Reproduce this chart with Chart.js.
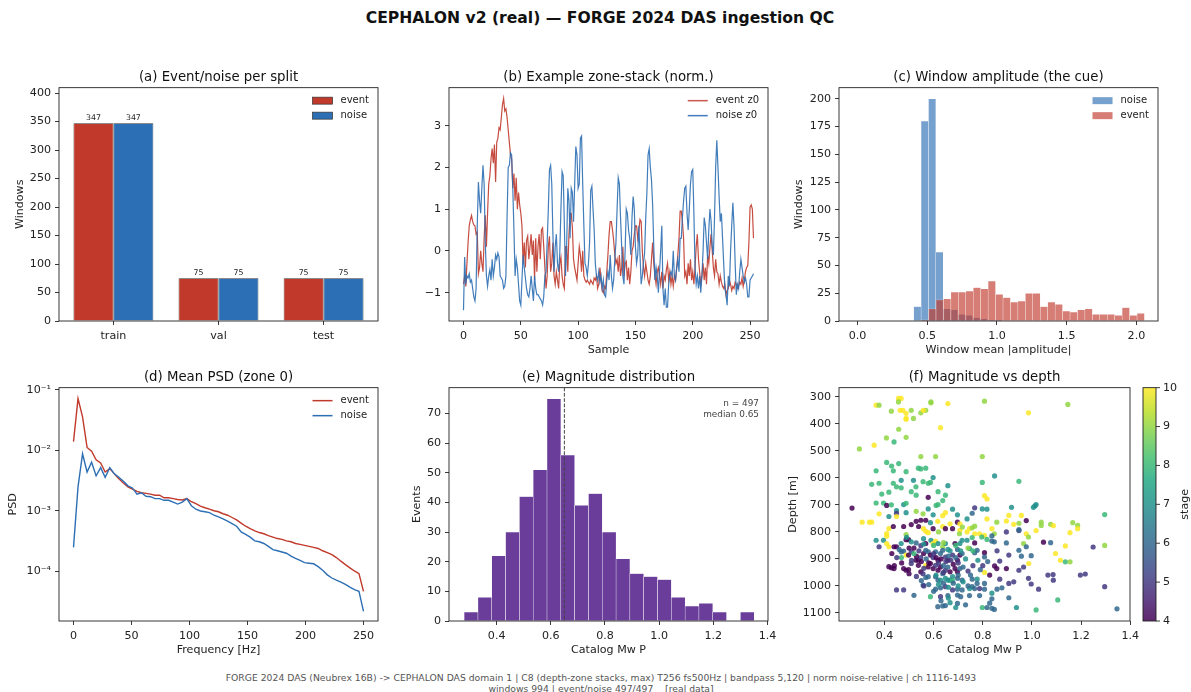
<!DOCTYPE html>
<html>
<head>
<meta charset="utf-8">
<title>CEPHALON v2 QC</title>
<script src="https://cdn.jsdelivr.net/npm/chart.js@4.4.1/dist/chart.umd.min.js"></script>
<style>
  body { margin: 0; background: #fff; }
  #fig { position: relative; width: 1191px; height: 692px; overflow: hidden; font-family: 'DejaVu Sans', sans-serif; color: #111; }
  #fig canvas { position: absolute; }
  .lbl { position: absolute; transform: translate(-50%, -50%); white-space: pre; }
  .ptitle { font-size: 13.3px; }
  #suptitle { font-size: 15.6px; font-weight: bold; }
  .foot { font-size: 9.25px; color: #555; }
</style>
</head>
<body>
<div id="fig">
  <div id="suptitle" class="lbl" style="left:600px;top:18px">CEPHALON v2 (real) — FORGE 2024 DAS ingestion QC</div>
  <div class="lbl foot" style="left:601px;top:677px">FORGE 2024 DAS (Neubrex 16B) -&gt; CEPHALON DAS domain 1 | C8 (depth-zone stacks, max) T256 fs500Hz | bandpass 5,120 | norm noise-relative | ch 1116-1493</div>
  <div class="lbl foot" style="left:601px;top:688px">windows 994 | event/noise 497/497    [real data]</div>
</div>
<script>
// (a) windows per split
const splits = ['train', 'val', 'test'];
const splitPos = [0, 1, 2];
const eventPerSplit = [347, 75, 75];
const noisePerSplit = [347, 75, 75];
const countTicks = [0, 50, 100, 150, 200, 250, 300, 350, 400];

// (b) example zone-stack, zone 0
const eventZ0 = [
  -0.8, -0.6, -0.85, -0.3, 0.2, 0.6, 0.75, 0.85, 0.7, 0.62,
  0.6, 0.4, 0.45, -0.55, -0.4, 0.0, -0.3, -0.5, 0.3, 0.85,
  0.1, 0.9, 1.6, 1.8, 2.2, 2.45, 2.1, 2.55, 1.65, 2.6,
  2.7, 2.95, 2.9, 3.2, 3.5, 3.65, 3.35, 3.4, 3.2, 2.9,
  2.6, 2.3, 2.2, 1.5, 1.85, 1.2, 1.75, 1.0, 1.4, 1.1,
  0.9, 0.6, -0.3, 0.2, -0.4, 0.25, 0.35, -0.2, 0.1, 0.4,
  -0.1, 0.25, -0.7, 0.3, -0.5, 0.1, 0.4, -0.2, 0.5, 0.55,
  0.1, -0.4, -0.9, -0.6, 0.1, 0.35, -0.5, -0.3, 0.2, -0.6,
  -0.8, -0.5, -0.7, -0.9, -0.3, -0.15, -0.6, -0.8, -0.9, 0.1,
  0.1, -0.5, 0.4, 0.9, 0.9, 0.55, -0.2, -0.4, -0.55, -0.7,
  -0.3, 0.1, -0.1, -0.5, 0.0, -0.6, -0.7, -0.75, -0.7, -0.75,
  -0.8, -0.7, -0.75, -0.8, -0.65, -0.7, -0.6, -0.9, -0.8, -0.4,
  -0.7, -0.95, -1.0, -0.85, -0.9, -0.5, -0.1, 0.4, 0.7, 0.7,
  0.5, 0.25, -0.1, -0.3, -0.2, -0.5, -0.1, -0.6, -0.4, 0.1,
  -0.6, -0.3, -0.25, -0.7, -0.4, -0.8, -0.5, 0.0, 0.1, 0.4,
  0.6, 0.6, 0.3, 0.5, 0.75, 0.7, 0.0, -0.4, -0.6, -0.3,
  -0.5, -0.7, -0.8, -0.6, -0.2, 0.2, -0.3, -0.6, -0.8, -0.5,
  -0.4, -0.6, -0.8, -0.5, -0.9, -0.6, -0.7, -0.45, -0.3, -0.7,
  -0.5, -0.8, -0.6, -0.85, -0.6, -0.7, -0.4, -0.1, 0.3, 0.95,
  0.95, 0.7, 0.3, -0.6, -0.5, -0.8, -0.3, -0.6, -0.2, -0.7,
  -0.5, -0.8, -0.4, 0.1, 0.4, -0.2, -0.5, -0.8, -0.6, -0.3,
  -0.7, -0.4, -0.8, -0.1, -0.3, 0.1, 0.4, 0.0, -0.4, -0.6,
  -0.2, -0.5, -0.55, -0.8, -0.6, -0.75, -0.85, -0.9, -0.8, -1.05,
  -0.95, -0.9, -0.7, -0.8, -0.95, -0.85, -0.9, -0.75, -0.8, -0.9,
  -0.85, -0.75, -0.8, -0.65, -0.85, -0.7, -0.5, -0.4, -0.35, 0.2,
  1.05, 1.1, 1.0, 0.3
];
const noiseZ0 = [
  -1.42, -0.15, -0.8, -0.6, -0.65, -0.55, -0.75, -0.7, -0.9, -1.1,
  -1.2, -0.9, 0.6, 1.65, 1.2, 0.9, 1.5, 2.05, 1.6, 0.2,
  -0.6, -0.85, -0.6, -0.45, -0.7, -0.2, -0.6, -0.4, -0.1, -0.2,
  -0.05, -0.15, -0.6, -0.65, -0.7, -0.9, -0.85, -0.6, 0.8, 2.0,
  2.05, 2.35, 2.3, 1.5, 0.5, -0.6, -0.2, -0.4, -0.8, -1.2,
  -1.3, -0.7, -0.1, -0.4, -0.65, -0.9, -1.05, -1.1, -0.9, -0.6,
  -0.9, -1.2, -0.6, -0.9, -1.05, -1.05, -1.1, -1.15, -1.2, -1.3,
  -1.1, -0.6, -0.5, 0.2, 1.0, 1.95, 2.05, 1.6, 0.4, -0.5,
  0.1, 0.4, -0.3, -0.5, -0.05, 1.0, 1.9, 1.8, 0.6, -0.6,
  0.1, 1.5, 1.2, 0.3, 1.5, 1.4, 0.7, 1.6, 2.5, 2.3,
  1.5, 1.6, 2.7, 2.75, 1.6, 0.6, -0.3, -0.4, -0.6, -0.3,
  0.2, 1.45, 1.55, 1.0, 0.5, -0.3, -0.6, -0.7, -0.5, -0.75,
  -0.6, -0.9, -0.7, -1.05, -1.1, -0.7, -0.5, -0.7, -0.1, -0.6,
  -0.9, -0.7, -0.2, 0.2, 1.0, 1.75, 1.6, 0.8, 0.1, -0.6,
  -0.8, 0.0, 1.0, 0.9, 0.5, 0.3, -0.1, 0.8, 1.3, 1.0,
  0.1, -0.3, -0.1, 0.6, -0.1, -0.8, -0.6, -0.3, -0.05, 0.8,
  1.4, 2.3, 2.45, 2.0, 1.7, 1.1, 0.1, -0.7, -0.4, -0.6,
  -1.0, -0.5, 0.0, 0.6, -0.9, -1.3, -0.9, -1.35, -1.35, -0.8,
  -0.6, -0.5, -0.6, 0.0, -0.6, -0.7, -0.4, -0.2, -0.5, 0.3,
  0.3, 0.8, 1.2, 1.5, 1.55, 0.9, 0.5, 1.0, 1.6, 1.9,
  1.95, 0.9, -0.4, -0.8, -0.6, -0.9, -0.6, -1.0, -0.6, 0.0,
  0.8, 0.6, 0.2, -0.2, 0.5, 1.0, 0.7, 0.1, -0.1, 0.8,
  2.0, 2.65, 2.0, 1.3, 0.7, 0.9, 0.3, -0.3, -0.9, -1.05,
  -1.3, -0.6, -0.85, 0.0, 0.6, 1.15, 0.6, -0.3, -1.05, -0.8,
  -0.9, -0.5, -0.2, -0.4, -0.6, -0.75, -0.65, -0.8, -1.1, -1.1,
  -0.7, -0.65, -0.6, -0.55
];
const sampleTicks = [0, 50, 100, 150, 200, 250];
const zTicks = [-1, 0, 1, 2, 3];

// (c) window mean |amplitude| histograms
const noiseAmpBins = [0.4294, 0.4822, 0.5350, 0.5878, 0.6406, 0.6934, 0.7462, 0.7990, 0.8518, 0.9046, 0.9574, 1.0102];
const noiseAmpCounts = [13, 180, 200, 62, 11, 10, 6, 5, 3, 2, 1, 1];
const eventAmpBins = [0.4827, 0.5361, 0.5895, 0.6429, 0.6963, 0.7497, 0.8031, 0.8565, 0.9099, 0.9633,
  1.0167, 1.0701, 1.1235, 1.1769, 1.2303, 1.2837, 1.3371, 1.3905, 1.4439, 1.4973,
  1.5507, 1.6041, 1.6575, 1.7109, 1.7643, 1.8177, 1.8711, 1.9245, 1.9779, 2.0313];
const eventAmpCounts = [1, 11, 19, 20, 26, 26, 27, 30, 29, 36, 24, 21, 17, 18, 25, 25, 13, 17, 15, 9,
  8, 10, 11, 6, 6, 6, 5, 12, 5, 7];
const ampTicks = [0, 0.5, 1, 1.5, 2];
const ampCountTicks = [0, 25, 50, 75, 100, 125, 150, 175, 200];

// (d) mean PSD, zone 0
const psdFreqs = [0, 3.9, 7.8, 11.7, 15.6, 19.5, 23.4, 27.3, 31.3, 35.2, 39.1, 43.0, 46.9, 50.8, 54.7, 58.6,
  62.5, 66.4, 70.3, 74.2, 78.1, 82.0, 85.9, 89.8, 93.8, 97.7, 101.6, 105.5, 109.4, 113.3, 117.2, 121.1,
  125.0, 128.9, 132.8, 136.7, 140.6, 144.5, 148.4, 152.3, 156.3, 160.2, 164.1, 168.0, 171.9, 175.8, 179.7,
  183.6, 187.5, 191.4, 195.3, 199.2, 203.1, 207.0, 210.9, 214.8, 218.8, 222.7, 226.6, 230.5, 234.4, 238.3,
  242.2, 246.1, 250.0];
const psdEvent = [0.014, 0.072, 0.036, 0.0112, 0.0097, 0.0070, 0.0062, 0.0044, 0.0050, 0.0041, 0.0034, 0.0029,
  0.0025, 0.0023, 0.0021, 0.0020, 0.00195, 0.0019, 0.00182, 0.00182, 0.00165, 0.00165, 0.0016, 0.00155,
  0.00152, 0.0016, 0.00142, 0.00132, 0.0012, 0.00113, 0.00107, 0.00101, 0.00097, 0.0009, 0.00085, 0.00078,
  0.00071, 0.00063, 0.00056, 0.00051, 0.00047, 0.00044, 0.00042, 0.00039, 0.00037, 0.00035, 0.00034,
  0.00032, 0.00031, 0.00029, 0.00028, 0.00027, 0.00026, 0.00025, 0.00024, 0.00022, 0.000205, 0.00019,
  0.00017, 0.000148, 0.00013, 0.000115, 0.000102, 0.000092, 0.000047];
const psdNoise = [0.00025, 0.0025, 0.0088, 0.0044, 0.0064, 0.0038, 0.0052, 0.0036, 0.0052, 0.0041, 0.0036, 0.0031,
  0.0026, 0.0024, 0.0019, 0.0020, 0.00175, 0.00172, 0.0016, 0.0016, 0.0015, 0.0015, 0.0014, 0.0013,
  0.0014, 0.0016, 0.00122, 0.00107, 0.0010, 0.00097, 0.00094, 0.00085, 0.0008, 0.00074, 0.00068, 0.00062,
  0.00056, 0.00045, 0.00041, 0.00037, 0.00032, 0.00031, 0.00029, 0.00026, 0.00023, 0.00022, 0.00021,
  0.0002, 0.00018, 0.000165, 0.000152, 0.00014, 0.000137, 0.000134, 0.00012, 0.000105, 0.000088, 0.000078,
  0.000072, 0.000067, 0.000061, 0.000055, 0.00005, 0.000047, 0.000022];
const freqTicks = [0, 50, 100, 150, 200, 250];
const psdTicks = [1e-4, 1e-3, 1e-2, 1e-1];

// (e) magnitude histogram
const mwBins = [0.3055, 0.3565, 0.4075, 0.4585, 0.5095, 0.5605, 0.6115, 0.6625, 0.7135, 0.7645, 0.8155,
  0.8665, 0.9175, 0.9685, 1.0195, 1.0705, 1.1215, 1.1725, 1.2235, 1.2745, 1.3255];
const mwCounts = [3, 8, 22, 30, 42, 51, 75, 56, 39, 43, 30, 21, 16, 15, 14, 8, 5, 6, 3, 0, 3];
const mwMedian = 0.65;
const nEvents = 497;
const mwTicks = [0.4, 0.6, 0.8, 1.0, 1.2, 1.4];
const eventCountTicks = [0, 10, 20, 30, 40, 50, 60, 70];

// (f) magnitude vs depth, coloured by stage
const mags = [0.457, 0.468, 0.457, 0.366, 0.378, 0.589, 0.589, 0.658, 0.428, 0.464, 0.475, 0.488, 0.509, 0.548,
  0.568, 0.558, 0.488, 0.488, 0.518, 0.628, 0.458, 0.408, 0.439, 0.488, 0.358, 0.298, 0.548, 0.608, 0.409,
  0.429, 0.458, 0.538, 0.548, 0.568, 0.366, 0.436, 0.488, 0.468, 0.518, 0.557, 0.598, 0.348, 0.378, 0.436,
  0.449, 0.468, 0.528, 0.578, 0.587, 0.658, 0.389, 0.418, 0.509, 0.529, 0.578, 0.618, 0.648, 0.366, 0.396,
  0.409, 0.428, 0.478, 0.488, 0.578, 0.610, 0.618, 0.637, 0.268, 0.449, 0.449, 0.418, 0.488, 0.529, 0.557,
  0.598, 0.637, 0.648, 0.677, 0.697, 0.378, 0.309, 0.339, 0.348, 0.449, 0.529, 0.548, 0.568, 0.587, 0.617,
  0.637, 0.667, 0.697, 0.707, 0.418, 0.409, 0.436, 0.478, 0.509, 0.539, 0.559, 0.568, 0.578, 0.598, 0.620,
  0.648, 0.677, 0.488, 0.409, 0.366, 0.396, 0.409, 0.418, 0.378, 0.439, 0.449, 0.468, 0.488, 0.498, 0.509,
  0.529, 0.548, 0.559, 0.568, 0.589, 0.598, 0.608, 0.618, 0.637, 0.648, 0.658, 0.667, 0.687, 0.697, 0.707,
  0.468, 0.478, 0.488, 0.498, 0.509, 0.469, 0.528, 0.538, 0.548, 0.559, 0.568, 0.578, 0.587, 0.598, 0.608,
  0.618, 0.628, 0.637, 0.648, 0.658, 0.677, 0.697, 0.707, 0.418, 0.428, 0.439, 0.478, 0.488, 0.498, 0.509,
  0.538, 0.548, 0.557, 0.568, 0.578, 0.587, 0.598, 0.608, 0.618, 0.628, 0.637, 0.648, 0.658, 0.667, 0.677,
  0.687, 0.697, 0.707, 0.568, 0.578, 0.608, 0.618, 0.628, 0.648, 0.658, 0.667, 0.677, 0.697, 0.449, 0.478,
  0.557, 0.608, 0.628, 0.648, 0.677, 0.697, 0.587, 0.628, 0.658, 0.697, 0.667, 0.617, 0.637, 0.648, 0.697,
  0.520, 0.560,
  0.807, 1.146, 0.986, 0.798, 0.848, 0.798, 0.947, 0.807, 0.817, 0.767, 0.798, 0.817, 0.757, 0.917, 1.006,
  1.017, 1.012, 1.296, 0.736, 0.817, 0.906, 0.957, 0.857, 0.896, 0.977, 0.947, 0.926, 1.038, 1.038, 1.076,
  1.087, 1.166, 1.186, 1.186, 1.155, 1.017, 0.977, 0.986, 0.947, 0.966, 0.707, 0.717, 0.746, 0.757, 0.767,
  0.807, 0.837, 0.847, 0.787, 0.736, 0.767, 0.705, 0.716, 0.736, 0.757, 0.796, 0.767, 0.817, 0.837, 0.837,
  0.847, 0.896, 0.896, 0.947, 1.047, 1.076, 1.136, 1.249, 1.296, 1.096, 1.116, 1.136, 1.155, 0.987, 0.947,
  0.977, 0.997, 0.858, 0.906, 0.957, 0.869, 0.848, 0.857, 0.896, 0.947, 0.966, 0.807, 0.807, 0.767, 0.777,
  0.746, 0.716, 0.807, 0.828, 0.807, 0.807, 0.777, 0.777, 0.757, 0.757, 0.716, 0.716, 0.746, 0.767, 0.787,
  0.869, 0.906, 0.926, 0.858, 0.878, 0.986, 0.997, 1.027, 1.065, 1.086, 1.087, 1.197, 1.217, 1.296, 0.906,
  0.837, 0.837, 0.746, 0.787, 0.828, 0.798, 0.817, 0.837, 0.847, 0.937, 1.017, 1.105, 1.346,
  0.52, 0.54, 0.53, 0.55, 0.56, 0.57, 0.58, 0.60, 0.61, 0.62, 0.63, 0.64, 0.65, 0.66, 0.67,
  0.68, 0.69, 0.70, 0.72, 0.73, 0.74, 0.75, 0.72, 0.74, 0.70, 0.68, 0.66, 0.64, 0.62, 0.60,
  0.63, 0.66, 0.71, 0.73, 0.69, 0.50, 0.51, 0.47, 0.45, 0.43, 0.46, 0.44, 0.50, 0.53, 0.55,
  0.58, 0.61, 0.64, 0.70, 0.76, 0.78, 0.79, 0.80, 0.82, 0.76, 0.74, 0.71, 0.69, 0.64, 0.60,
  0.56, 0.52, 0.49];
const depths = [306, 306, 319, 331, 331, 319, 322, 325, 353, 350, 350, 361, 350, 359,
  350, 350, 383, 380, 380, 414, 420, 452, 467, 450, 479, 493, 521, 521, 543,
  556, 547, 564, 567, 564, 574, 574, 577, 609, 609, 614, 599, 624, 620, 620,
  633, 637, 633, 620, 617, 629, 660, 653, 651, 664, 672, 651, 664, 693, 693,
  702, 700, 699, 694, 715, 702, 699, 684, 712, 721, 731, 743, 729, 724, 733,
  737, 740, 729, 716, 737, 733, 764, 764, 764, 743, 761, 757, 757, 766, 761,
  780, 770, 764, 794, 788, 806, 780, 780, 773, 780, 788, 798, 803, 788, 800,
  788, 788, 810, 816, 831, 831, 843, 855, 855, 855, 855, 843, 829, 829, 837,
  841, 851, 825, 843, 831, 843, 834, 843, 855, 843, 865, 870, 843, 865, 843,
  874, 871, 886, 886, 874, 895, 905, 905, 895, 880, 868, 874, 886, 895, 874,
  905, 880, 868, 893, 905, 886, 905, 886, 929, 933, 936, 936, 942, 940, 917,
  924, 948, 955, 924, 930, 917, 936, 924, 942, 930, 955, 942, 930, 948, 966,
  936, 948, 936, 969, 966, 966, 979, 979, 972, 979, 979, 981, 972, 1015, 1015,
  997, 1012, 1007, 1003, 1015, 1012, 1040, 1040, 1036, 1034, 1062, 1077, 1074, 1073, 1065,
  1035, 1000,
  316, 328, 359, 521, 593, 617, 613, 666, 678, 711, 715, 716, 731, 709, 709,
  699, 704, 736, 752, 752, 739, 739, 764, 760, 758, 768, 772, 764, 776, 772,
  777, 766, 776, 788, 803, 795, 807, 819, 795, 843, 770, 782, 788, 785, 779,
  813, 788, 807, 807, 800, 807, 807, 831, 831, 821, 819, 841, 828, 815, 834,
  837, 800, 841, 792, 838, 840, 852, 856, 850, 880, 905, 911, 911, 917, 868,
  855, 888, 870, 886, 890, 908, 926, 936, 936, 942, 930, 877, 893, 877, 868,
  862, 880, 950, 960, 991, 1012, 975, 991, 975, 1003, 979, 1015, 1010, 1010, 1010,
  975, 991, 985, 1012, 1007, 972, 993, 1012, 960, 958, 979, 960, 956, 1003, 1044,
  1027, 1048, 1036, 1036, 1064, 1080, 1080, 1083, 1087, 1080, 1089, 1052, 1085,
  860, 870, 890, 910, 935, 900, 915, 880, 895, 915, 900, 925, 910, 890, 905,
  920, 895, 915, 930, 900, 945, 960, 985, 1000, 1000, 990, 1005, 990, 995, 1020,
  1055, 1045, 1040, 1070, 1080, 860, 905, 915, 895, 880, 865, 925, 955, 965, 980,
  995, 960, 950, 960, 925, 905, 940, 925, 910, 870, 860, 870, 850, 840, 850,
  845, 880, 820];
const stages = [10, 10, 9, 10, 9, 9, 9, 10, 9, 10, 10, 10, 9, 9,
  9, 10, 10, 10, 9, 10, 9, 9, 8, 9, 10, 9, 9, 9, 8,
  8, 8, 8, 8, 8, 8, 8, 8, 7, 7, 8, 7, 8, 8, 8,
  8, 8, 8, 8, 8, 7, 8, 8, 8, 8, 4, 8, 8, 8, 8,
  4, 8, 7, 8, 7, 8, 8, 8, 4, 7, 5, 7, 7, 9, 9,
  7, 10, 10, 7, 7, 10, 10, 10, 10, 10, 4, 4, 4, 7, 10,
  10, 10, 4, 10, 10, 10, 4, 4, 4, 4, 10, 10, 10, 4, 9,
  4, 4, 9, 10, 7, 7, 10, 10, 5, 4, 4, 7, 4, 4, 7,
  6, 5, 7, 4, 7, 10, 10, 7, 9, 7, 7, 7, 4, 6, 7,
  6, 6, 10, 4, 5, 8, 4, 4, 5, 4, 6, 6, 4, 5, 6,
  4, 6, 6, 5, 4, 5, 4, 4, 4, 4, 4, 4, 4, 4, 5,
  4, 4, 5, 10, 4, 4, 4, 5, 4, 4, 6, 5, 6, 4, 7,
  4, 4, 6, 6, 6, 6, 6, 7, 7, 7, 7, 8, 6, 5, 5,
  6, 6, 6, 5, 5, 6, 8, 5, 6, 6, 7, 6, 6, 6, 6,
  6, 5,
  9, 9, 10, 9, 7, 8, 8, 10, 10, 5, 7, 7, 6, 7, 7,
  7, 7, 8, 7, 10, 10, 10, 9, 10, 4, 9, 10, 9, 9, 9,
  10, 9, 9, 10, 10, 10, 10, 9, 5, 9, 10, 9, 10, 9, 9,
  10, 10, 9, 10, 10, 10, 9, 7, 7, 8, 8, 4, 8, 6, 6,
  6, 5, 6, 6, 4, 6, 10, 5, 9, 10, 10, 8, 9, 10, 6,
  6, 6, 5, 5, 6, 5, 4, 4, 4, 5, 5, 4, 6, 6, 6,
  7, 6, 10, 4, 6, 6, 7, 6, 6, 6, 6, 6, 7, 6, 5,
  5, 5, 5, 6, 6, 5, 5, 5, 5, 5, 5, 5, 5, 5, 6,
  7, 6, 6, 6, 6, 8, 6, 6, 6, 7, 8, 8, 6,
  4, 5, 4, 4, 5, 6, 4, 5, 4, 5, 4, 6, 5, 6, 5,
  4, 6, 5, 6, 7, 5, 6, 7, 6, 7, 6, 7, 6, 7, 6,
  6, 7, 6, 6, 7, 4, 5, 4, 5, 4, 6, 4, 4, 5, 6,
  6, 7, 5, 6, 5, 7, 6, 5, 6, 8, 9, 7, 8, 9, 8,
  7, 8, 7];
const depthTicks = [300, 400, 500, 600, 700, 800, 900, 1000, 1100];
const stageTicks = [4, 5, 6, 7, 8, 9, 10];

// ---- styling ----
const RED = '#c0392b';
const BLUE = '#2d6fb4';
const PURPLE = '#6a3d9a';
const INK = '#222';
const FS = 11.1;
const VIRIDIS = ['#440154', '#482475', '#414487', '#355f8d', '#2a788e', '#21918c',
  '#22a884', '#44bf70', '#7ad151', '#bddf26', '#fde725'];

Chart.defaults.font.family = "'DejaVu Sans', sans-serif";
Chart.defaults.font.size = FS;
Chart.defaults.color = INK;

function rgb(hex) {
  const n = parseInt(hex.slice(1), 16);
  return [(n >> 16) & 255, (n >> 8) & 255, n & 255];
}
function rgba(hex, a) {
  const c = rgb(hex);
  return `rgba(${c[0]},${c[1]},${c[2]},${a})`;
}
function viridis(t, a) {
  t = Math.min(1, Math.max(0, t));
  const p = t * (VIRIDIS.length - 1);
  const i = Math.min(Math.floor(p), VIRIDIS.length - 2);
  const f = p - i;
  const c0 = rgb(VIRIDIS[i]), c1 = rgb(VIRIDIS[i + 1]);
  const m = c0.map((v, k) => Math.round(v + (c1[k] - v) * f));
  return `rgba(${m[0]},${m[1]},${m[2]},${a})`;
}
const minus = v => (v < 0 ? '\u2212' + Math.abs(v) : String(v));
const SUP = { '-': '\u207b', '1': '\u00b9', '2': '\u00b2', '3': '\u00b3', '4': '\u2074', '5': '\u2075' };
const pow10 = v => '10' + String(Math.round(Math.log10(v))).split('').map(ch => SUP[ch]).join('');

function scale(ticks, fmt, extra) {
  return Object.assign({
    type: 'linear',
    offset: false,
    afterBuildTicks: s => { s.ticks = ticks.map(v => ({ value: v })); },
    ticks: { callback: fmt || (v => String(v)), padding: 4, autoSkip: false, maxRotation: 0, color: INK, font: { size: FS } },
    grid: { display: true, offset: false, drawOnChartArea: false, drawTicks: true, tickLength: 4, color: INK, lineWidth: 0.9 },
    border: { display: false }
  }, extra);
}
function yTitle(text, pad) {
  return { display: true, text, color: INK, font: { size: FS }, padding: { top: pad, bottom: 0 } };
}
function xTitle(text) {
  return { display: true, text, color: INK, font: { size: FS }, padding: { top: 0, bottom: 6.3 } };
}

// spines on all four sides
const frame = {
  id: 'frame',
  afterDraw(chart) {
    const a = chart.chartArea, c = chart.ctx;
    c.save();
    c.strokeStyle = INK;
    c.lineWidth = 0.9;
    c.strokeRect(a.left, a.top, a.right - a.left, a.bottom - a.top);
    c.restore();
  }
};

function legendPlugin(items) {
  return {
    id: 'innerLegend',
    afterDraw(chart) {
      const c = chart.ctx, a = chart.chartArea;
      c.save();
      c.font = "10px 'DejaVu Sans'";
      const w = Math.max(...items.map(it => c.measureText(it.label).width));
      const tx = a.right - 9 - w;
      items.forEach((it, i) => {
        const y = a.top + 13 + i * 15;
        if (it.line) {
          c.strokeStyle = it.color;
          c.lineWidth = 1.5;
          c.beginPath(); c.moveTo(tx - 28, y); c.lineTo(tx - 8, y); c.stroke();
        } else {
          c.fillStyle = it.color;
          c.fillRect(tx - 28, y - 3.5, 20, 7);
          if (it.edge) { c.strokeStyle = it.edge; c.lineWidth = 0.7; c.strokeRect(tx - 28, y - 3.5, 20, 7); }
        }
        c.fillStyle = INK;
        c.textAlign = 'left';
        c.textBaseline = 'middle';
        c.fillText(it.label, tx, y);
      });
      c.restore();
    }
  };
}

const barLabels = {
  id: 'barLabels',
  afterDatasetsDraw(chart) {
    const c = chart.ctx;
    c.save();
    c.font = "7.8px 'DejaVu Sans'";
    c.fillStyle = INK;
    c.textAlign = 'center';
    c.textBaseline = 'bottom';
    chart.data.datasets.forEach((ds, i) => {
      chart.getDatasetMeta(i).data.forEach((el, j) => c.fillText(String(ds.data[j].y), el.x, el.y - 1.5));
    });
    c.restore();
  }
};

const medianMark = {
  id: 'medianMark',
  afterDatasetsDraw(chart) {
    const c = chart.ctx, a = chart.chartArea;
    const x = chart.scales.x.getPixelForValue(mwMedian);
    c.save();
    c.strokeStyle = '#444';
    c.lineWidth = 1;
    c.setLineDash([3.7, 1.6]);
    c.beginPath(); c.moveTo(x, a.top); c.lineTo(x, a.bottom); c.stroke();
    c.setLineDash([]);
    c.font = "8.9px 'DejaVu Sans'";
    c.fillStyle = '#444';
    c.textAlign = 'right';
    c.textBaseline = 'middle';
    c.fillText('n = ' + nEvents, a.right - 9, a.top + 15.7);
    c.fillText('median ' + mwMedian.toFixed(2), a.right - 9, a.top + 26.7);
    c.restore();
  }
};

const colorbar = {
  id: 'colorbar',
  afterDraw(chart) {
    const c = chart.ctx, a = chart.chartArea;
    const x0 = a.right + 13, w = 13;
    const lo = stageTicks[0], hi = stageTicks[stageTicks.length - 1];
    const g = c.createLinearGradient(0, a.bottom, 0, a.top);
    VIRIDIS.forEach((col, i) => g.addColorStop(i / (VIRIDIS.length - 1), rgba(col, 0.85)));
    c.save();
    c.fillStyle = g;
    c.fillRect(x0, a.top, w, a.bottom - a.top);
    c.strokeStyle = INK;
    c.lineWidth = 0.9;
    c.strokeRect(x0, a.top, w, a.bottom - a.top);
    c.font = FS + "px 'DejaVu Sans'";
    c.fillStyle = INK;
    c.textAlign = 'left';
    c.textBaseline = 'middle';
    stageTicks.forEach(v => {
      const y = a.bottom - (v - lo) / (hi - lo) * (a.bottom - a.top);
      c.beginPath(); c.moveTo(x0 + w, y); c.lineTo(x0 + w + 4, y); c.stroke();
      c.fillText(String(v), x0 + w + 7, y);
    });
    c.translate(a.right + 55, (a.top + a.bottom) / 2);
    c.rotate(-Math.PI / 2);
    c.textAlign = 'center';
    c.fillText('stage', 0, 0);
    c.restore();
  }
};

const fig = document.getElementById('fig');
function panel(box, title, config) {
  const { L, T, W, H } = box;
  const padR = box.padR || 22;
  const cv = document.createElement('canvas');
  cv.width = W + 60 + padR;
  cv.height = H + 52;
  cv.style.left = (L - 60) + 'px';
  cv.style.top = (T - 10) + 'px';
  fig.appendChild(cv);
  const t = document.createElement('div');
  t.className = 'lbl ptitle';
  t.textContent = title;
  t.style.left = (L + W / 2) + 'px';
  t.style.top = (T - 11) + 'px';
  fig.appendChild(t);
  const o = config.options;
  o.responsive = false;
  o.animation = false;
  o.events = [];
  o.layout = { padding: { left: 0, top: 10, right: padR, bottom: 0 } };
  o.plugins = { legend: { display: false }, tooltip: { enabled: false } };
  o.scales.x.afterFit = s => { s.height = 42; };
  o.scales.y.afterFit = s => { s.width = 60; };
  config.plugins = [frame].concat(config.plugins || []);
  return new Chart(cv, config);
}

// (a)
panel({ L: 59, T: 87, W: 319, H: 234 }, '(a) Event/noise per split', {
  type: 'bar',
  data: {
    datasets: [
      { label: 'event', data: splitPos.map((x, i) => ({ x, y: eventPerSplit[i] })), backgroundColor: RED, borderColor: '#333', borderWidth: 0.7 },
      { label: 'noise', data: splitPos.map((x, i) => ({ x, y: noisePerSplit[i] })), backgroundColor: BLUE, borderColor: '#333', borderWidth: 0.7 }
    ]
  },
  options: {
    datasets: { bar: { categoryPercentage: 0.76, barPercentage: 1 } },
    scales: {
      x: scale(splitPos, v => splits[v], { min: -0.518, max: 2.518 }),
      y: scale(countTicks, null, { min: 0, max: 409.5, title: yTitle('Windows', 14.3) })
    }
  },
  plugins: [barLabels, legendPlugin([
    { label: 'event', color: RED, edge: '#333' },
    { label: 'noise', color: BLUE, edge: '#333' }
  ])]
});

// (b)
panel({ L: 449, T: 87, W: 319, H: 234 }, '(b) Example zone-stack (norm.)', {
  type: 'line',
  data: {
    datasets: [
      { label: 'event z0', data: eventZ0.map((y, x) => ({ x, y })), borderColor: rgba(RED, 0.9), borderWidth: 1.2, pointRadius: 0, order: 1 },
      { label: 'noise z0', data: noiseZ0.map((y, x) => ({ x, y })), borderColor: rgba(BLUE, 0.9), borderWidth: 1.2, pointRadius: 0, order: 0 }
    ]
  },
  options: {
    scales: {
      x: scale(sampleTicks, null, { min: -12.65, max: 265.65, title: xTitle('Sample') }),
      y: scale(zTicks, minus, { min: -1.68, max: 3.91 })
    }
  },
  plugins: [legendPlugin([
    { label: 'event z0', color: rgba(RED, 0.85), line: true },
    { label: 'noise z0', color: rgba(BLUE, 0.9), line: true }
  ])]
});

// (c)
panel({ L: 839, T: 87, W: 319, H: 234 }, '(c) Window amplitude (the cue)', {
  type: 'bar',
  data: {
    datasets: [
      { label: 'noise', xAxisID: 'x', data: noiseAmpBins.map((x, i) => ({ x, y: noiseAmpCounts[i] })),
        backgroundColor: rgba(BLUE, 0.65), borderColor: 'rgba(255,255,255,0.45)', borderWidth: 0.5, order: 1 },
      { label: 'event', xAxisID: 'x2', data: eventAmpBins.map((x, i) => ({ x, y: eventAmpCounts[i] })),
        backgroundColor: rgba(RED, 0.65), borderColor: 'rgba(255,255,255,0.45)', borderWidth: 0.5, order: 0 }
    ]
  },
  options: {
    datasets: { bar: { categoryPercentage: 1, barPercentage: 1, grouped: false } },
    scales: {
      x: scale(ampTicks, v => v.toFixed(1), { min: -0.133, max: 2.155, title: xTitle('Window mean |amplitude|') }),
      x2: { type: 'linear', display: false, offset: false, min: -0.133, max: 2.155 },
      y: scale(ampCountTicks, null, { min: 0, max: 210, title: yTitle('Windows', 13.6) })
    }
  },
  plugins: [legendPlugin([
    { label: 'noise', color: rgba(BLUE, 0.65) },
    { label: 'event', color: rgba(RED, 0.65) }
  ])]
});

// (d)
panel({ L: 59, T: 387, W: 319, H: 234 }, '(d) Mean PSD (zone 0)', {
  type: 'line',
  data: {
    datasets: [
      { label: 'event', data: psdFreqs.map((x, i) => ({ x, y: psdEvent[i] })), borderColor: RED, borderWidth: 1.4, pointRadius: 0, order: 1 },
      { label: 'noise', data: psdFreqs.map((x, i) => ({ x, y: psdNoise[i] })), borderColor: BLUE, borderWidth: 1.4, pointRadius: 0, order: 0 }
    ]
  },
  options: {
    scales: {
      x: scale(freqTicks, null, { min: -12.5, max: 262.5, title: xTitle('Frequency [Hz]') }),
      y: scale(psdTicks, pow10, { type: 'logarithmic', min: 1.52e-5, max: 0.109, title: yTitle('PSD', 7.6) })
    }
  },
  plugins: [legendPlugin([
    { label: 'event', color: RED, line: true },
    { label: 'noise', color: BLUE, line: true }
  ])]
});

// (e)
panel({ L: 449, T: 387, W: 319, H: 234 }, '(e) Magnitude distribution', {
  type: 'bar',
  data: {
    datasets: [
      { label: 'events', data: mwBins.map((x, i) => ({ x, y: mwCounts[i] })), backgroundColor: PURPLE, borderColor: '#ffffff', borderWidth: 0.5 }
    ]
  },
  options: {
    datasets: { bar: { categoryPercentage: 1, barPercentage: 1 } },
    scales: {
      x: scale(mwTicks, v => v.toFixed(1), { min: 0.224, max: 1.402, title: xTitle('Catalog Mw P') }),
      y: scale(eventCountTicks, null, { min: 0, max: 78.75, title: yTitle('Events', 21.6) })
    }
  },
  plugins: [medianMark]
});

// (f)
panel({ L: 839, T: 387, W: 291, H: 234, padR: 61 }, '(f) Magnitude vs depth', {
  type: 'scatter',
  data: {
    datasets: [
      { label: 'events', data: mags.map((x, i) => ({ x, y: depths[i] })),
        backgroundColor: stages.map(s => viridis((s - stageTicks[0]) / (stageTicks[6] - stageTicks[0]), 0.85)),
        borderWidth: 0, pointRadius: 2.6 }
    ]
  },
  options: {
    scales: {
      x: scale(mwTicks, v => v.toFixed(1), { min: 0.215, max: 1.399, title: xTitle('Catalog Mw P') }),
      y: scale(depthTicks, null, { min: 266, max: 1130, reverse: true, title: yTitle('Depth [m]', 7.0) })
    }
  },
  plugins: [colorbar]
});
</script>
</body>
</html>
